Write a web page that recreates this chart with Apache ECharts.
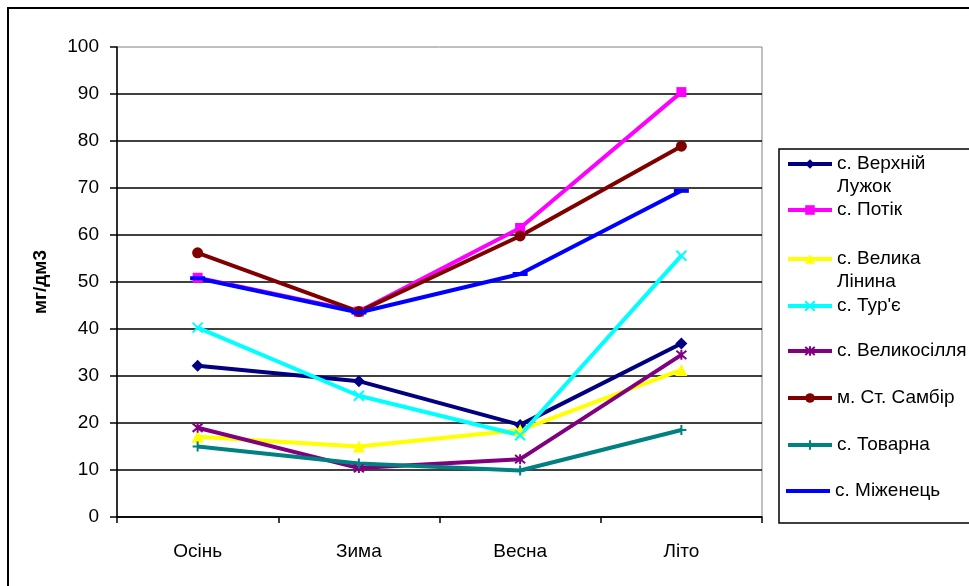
<!DOCTYPE html>
<html>
<head>
<meta charset="utf-8">
<script src="https://cdn.jsdelivr.net/npm/echarts@6/dist/echarts.min.js"></script>
<style>
  html, body { margin: 0; padding: 0; background: #fff; }
  #chart { width: 969px; height: 586px; }
</style>
</head>
<body>
<div id="chart"></div>
<script>
// Seasons on the category axis
const seasons = ['Осінь', 'Зима', 'Весна', 'Літо'];

// Settlement names (series) and their wrapped legend captions
const seriesNames = [
  'с. Верхній Лужок', 'с. Потік', 'с. Велика Лінина', "с. Тур'є",
  'с. Великосілля', 'м. Ст. Самбір', 'с. Товарна', 'с. Міженець'
];
const legendLabels = [
  'с. Верхній\nЛужок', 'с. Потік', 'с. Велика\nЛінина', "с. Тур'є",
  'с. Великосілля', 'м. Ст. Самбір', 'с. Товарна', 'с. Міженець'
];

// Concentration, mg/dm3, per season
const verkhniiLuzhok = [32.2, 28.9, 19.6, 36.9];
const potik          = [50.9, 43.7, 61.5, 90.4];
const velykaLinyna   = [17.1, 15.0, 18.5, 31.3];
const turie          = [40.3, 25.8, 17.4, 55.6];
const velykosillia   = [19.0, 10.4, 12.3, 34.5];
const stSambir       = [56.2, 43.7, 59.8, 78.9];
const tovarna        = [15.0, 11.4,  9.9, 18.5];
const mizhenets      = [50.8, 43.5, 51.7, 69.4];

const seriesValues = [verkhniiLuzhok, potik, velykaLinyna, turie,
                      velykosillia, stSambir, tovarna, mizhenets];

// Value axis range
const yMin = 0, yMax = 100, yStep = 10;

const FONT = 'Liberation Sans, Arial, sans-serif';

// Per-series look: colour and marker (the last one uses a dash marker,
// so its legend icon is a plain thick line)
const styles = [
  { color: '#000080', symbol: 'diamond', size: 12 },
  { color: '#FF00FF', symbol: 'rect', size: 10 },
  { color: '#FFFF00', symbol: 'triangle', size: 12 },
  { color: '#00FFFF', symbol: 'path://M0,0L10,10M10,0L0,10', size: 10, stroke: true },
  { color: '#800080', symbol: 'path://M0,0L10,10M10,0L0,10M5,-1L5,11', size: 10, stroke: true },
  { color: '#800000', symbol: 'circle', size: 11 },
  { color: '#008080', symbol: 'path://M5,0L5,10M0,5L10,5', size: 10, stroke: true },
  { color: '#0000FF', symbol: 'rect', size: [15, 4], legendIcon: 'path://M0,0L11,0L11,1L0,1Z' }
];

// Vertical centres of the legend rows
const LEGEND_ROWS = [164, 210, 259, 306, 351, 398, 445, 491];

const series = seriesNames.map((name, i) => {
  const st = styles[i];
  return {
    name: name,
    type: 'line',
    data: seriesValues[i],
    symbol: st.symbol,
    symbolSize: st.size,
    showSymbol: true,
    animation: false,
    lineStyle: { color: st.color, width: 4 },
    itemStyle: st.stroke
      ? { color: st.color, borderColor: st.color, borderWidth: 2 }
      : { color: st.color, borderWidth: 0 },
    emphasis: { disabled: true }
  };
});

// One legend block per row; wrapped captions get a leading blank line so
// their first line stays level with the marker
const legends = seriesNames.map((name, i) => {
  const twoLine = legendLabels[i].indexOf('\n') >= 0;
  const icon = styles[i].legendIcon;
  return {
    data: [icon ? { name: name, icon: icon } : name],
    orient: 'vertical',
    left: 786,
    top: LEGEND_ROWS[i] - (twoLine ? 34.5 : 11.5),
    padding: 0,
    itemWidth: 44,
    itemHeight: 12,
    selectedMode: false,
    lineStyle: { width: 4 },
    formatter: () => (twoLine ? '\n' : '') + legendLabels[i],
    textStyle: { fontFamily: FONT, fontSize: 19, color: '#000', lineHeight: 23 }
  };
});

const chart = echarts.init(document.getElementById('chart'), null, { renderer: 'canvas' });
chart.setOption({
  animation: false,
  backgroundColor: '#fff',
  grid: {
    left: 117, right: 207, top: 47, bottom: 69,
    show: true, borderColor: '#808080', borderWidth: 1, backgroundColor: 'transparent'
  },
  legend: legends,
  xAxis: {
    type: 'category',
    data: seasons,
    boundaryGap: true,
    axisLine: { lineStyle: { color: '#000', width: 1.5 } },
    axisTick: { show: true, length: 6, lineStyle: { color: '#000', width: 1.5 } },
    axisLabel: { color: '#000', fontFamily: FONT, fontSize: 19, margin: 25 },
    splitLine: { show: false }
  },
  yAxis: {
    type: 'value',
    min: yMin, max: yMax, interval: yStep,
    name: 'мг/дм3',
    nameLocation: 'middle',
    nameRotate: 90,
    nameGap: 67,
    nameTextStyle: { color: '#000', fontFamily: FONT, fontSize: 19, fontWeight: 'bold' },
    axisLine: { show: true, lineStyle: { color: '#000', width: 1.5 } },
    axisTick: { show: true, length: 7, lineStyle: { color: '#000', width: 1.5 } },
    axisLabel: { color: '#000', fontFamily: FONT, fontSize: 19, margin: 18 },
    splitLine: { show: true, showMaxLine: false, lineStyle: { color: '#000', width: 1.5 } }
  },
  graphic: [
    {
      type: 'rect', z: -1, silent: true,
      shape: { x: 8, y: 8, width: 2000, height: 2000 },
      style: { fill: null, stroke: '#000', lineWidth: 2 }
    },
    {
      type: 'rect', z: -1, silent: true,
      shape: { x: 779, y: 149, width: 400, height: 374 },
      style: { fill: null, stroke: '#000', lineWidth: 1.5 }
    }
  ],
  series: series
});
</script>
</body>
</html>
